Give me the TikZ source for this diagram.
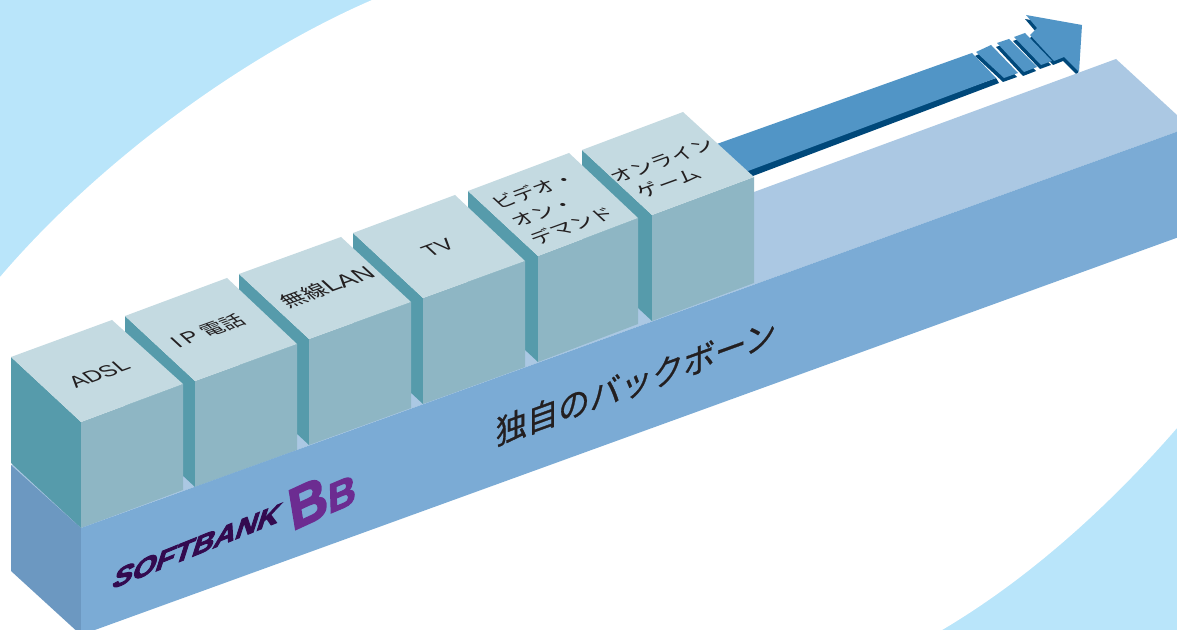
\documentclass[tikz,border=0pt]{standalone}
\usepackage{fontspec}
\setmainfont{Liberation Sans}
\newfontfamily\jp{Noto Sans CJK JP}
\newfontfamily\jpm[FakeBold=0.8]{Noto Sans CJK JP}
\newfontfamily\sbfont[FakeBold=3.5]{Liberation Sans Bold}
\newfontfamily\bbfont[FakeBold=3]{Liberation Sans Bold}
\definecolor{bgblue}{HTML}{B9E5FA}
\definecolor{topcol}{HTML}{C4DAE1}
\definecolor{sidecol}{HTML}{569BAB}
\definecolor{frontcol}{HTML}{8EB6C4}
\definecolor{backfront}{HTML}{7BABD5}
\definecolor{backtop}{HTML}{ABC8E3}
\definecolor{backleft}{HTML}{6C98C1}
\definecolor{arrowcol}{HTML}{5195C6}
\definecolor{arrowdark}{HTML}{00487A}
\definecolor{inkcol}{HTML}{231F20}
\definecolor{sbcol}{HTML}{330A4F}
\definecolor{bbcol}{HTML}{6C2C91}
\tikzset{
  topface/.style={fill=topcol},
  sideface/.style={fill=sidecol},
  frontface/.style={fill=frontcol},
  arrowblue/.style={fill=arrowcol},
  arrowshade/.style={fill=arrowdark},
  facetext/.style={transform shape,inner sep=0pt,text=inkcol,align=left},
  latinlabel/.style={font=\fontsize{17}{19}\selectfont},
  jplabel/.style={font=\jp\fontsize{16}{22}\selectfont},
}
\newcommand\blockshape[4]{%
  \fill[sideface] (#1) -- (#4) -- ([shift={(0,106)}]#4) -- ([shift={(0,106)}]#1) -- cycle;
  \fill[frontface] (#4) -- (#3) -- ([shift={(0,106)}]#3) -- ([shift={(0,106)}]#4) -- cycle;
  \fill[topface] (#1) -- (#2) -- (#3) -- (#4) -- cycle;
}
\newcommand\toplabel[4]{%
  \begin{scope}[shift={(#1)},cm={.94,.34,-.65,.6,(0,0)}]
    \node[facetext,#3] (#2) at (0,0) {#4};
  \end{scope}
}
\begin{document}
\begin{tikzpicture}[x=0.75pt,y=-0.75pt]
\useasboundingbox (0,0) rectangle (1177,630);
\clip (0,0) rectangle (1177,630);
% background
\fill[bgblue] (0,0) rectangle (1177,630);
\fill[white] (372,0) .. controls (245,55) and (100,160) .. (0,277) -- (0,630) -- (942,630)
  .. controls (1030,578) and (1110,505) .. (1177,428) -- (1177,0) -- cycle;
% arrow shadows
\fill[arrowshade] (700,196) -- (999,83) -- (996,78) -- (700,185) -- cycle;
\begin{scope}[shift={(-1,4)}]
  \fill[arrowshade] (976,52) -- (991,45) -- (1018,73) -- (1004,78) -- cycle;
  \fill[arrowshade] (997,43) -- (1009,39) -- (1037,67) -- (1024,72) -- cycle;
  \fill[arrowshade] (1014,37) -- (1025,33) -- (1052,61) -- (1041,65) -- cycle;
  \fill[arrowshade] (1026,15) -- (1082,25) -- (1079,72) -- (1064,57) -- (1054,61) -- (1030,35) -- (1037,28) -- cycle;
\end{scope}
% arrow
\fill[arrowblue] (700,150) -- (972,53) -- (996,78) -- (700,189) -- cycle;
\fill[arrowblue] (976,52) -- (991,45) -- (1018,73) -- (1004,78) -- cycle;
\fill[arrowblue] (997,43) -- (1009,39) -- (1037,67) -- (1024,72) -- cycle;
\fill[arrowblue] (1014,37) -- (1025,33) -- (1052,61) -- (1041,65) -- cycle;
\fill[arrowblue] (1026,15) -- (1082,25) -- (1079,72) -- (1064,57) -- (1054,61) -- (1030,35) -- (1037,28) -- cycle;
% backbone top
\fill[backtop] (11,465) -- (1116,59) -- (1190,127) -- (81,528) -- cycle;
% blocks, far to near
\blockshape{582,150}{683,112}{754,177}{652,215}
\blockshape{468,191}{569,153}{638,218}{538,256}
\blockshape{353,233}{455,195}{525,261}{423,298}
\blockshape{239,274}{341,237}{411,302}{309,339}
\blockshape{125,316}{227,278}{297,344}{195,381}
\blockshape{11,357}{112,320}{183,384}{81,422}
% backbone faces
\fill[backleft] (11,465) -- (81,528) -- (81,635) -- (11,571) -- cycle;
\fill[backfront] (81,528) -- (1190,127) -- (1190,233) -- (81,635) -- cycle;
% labels
\toplabel{99,374}{adsl}{latinlabel}{ADSL}
\toplabel{208,331}{ip}{latinlabel}{I\,P {\jp\fontsize{16}{19}\selectfont 電話}}
\toplabel{327,287}{wlan}{latinlabel}{{\jp\fontsize{17}{19}\selectfont 無線}\fontsize{19}{19}\selectfont LAN}
\toplabel{438,248}{tv}{latinlabel}{TV}
\toplabel{553,208}{vod}{jplabel}{ビデオ・\\オン・\\デマンド}
\toplabel{672,170}{game}{jplabel}{オンライン\\\hspace{6pt}ゲーム}
\begin{scope}[shift={(636,382)},cm={.94,.34,0,1,(0,0)}]
  \node[transform shape,inner sep=0pt,text=inkcol,font=\jpm\fontsize{25}{28}\selectfont] (backbone) at (0,0) {独自のバックボーン};
\end{scope}
\begin{scope}[shift={(197,546)},cm={1.12,.45,.35,1.1,(0,0)}]
  \node[transform shape,inner sep=0pt,text=sbcol,font=\sbfont\fontsize{20}{22}\selectfont] (softbank) at (0,0) {SOFTBANK};
\end{scope}
\begin{scope}[shift={(308,503)},cm={.91,.42,-.16,.98,(0,0)}]
  \node[transform shape,inner sep=0pt,text=bbcol,font=\bbfont\fontsize{43}{46}\selectfont] (bigb) at (0,0) {B};
\end{scope}
\begin{scope}[shift={(342,494)},cm={.92,.39,-.03,1,(0,0)}]
  \node[transform shape,inner sep=0pt,text=bbcol,font=\bbfont\fontsize{31}{34}\selectfont] (smallb) at (0,0) {B};
\end{scope}
\end{tikzpicture}
\end{document}
